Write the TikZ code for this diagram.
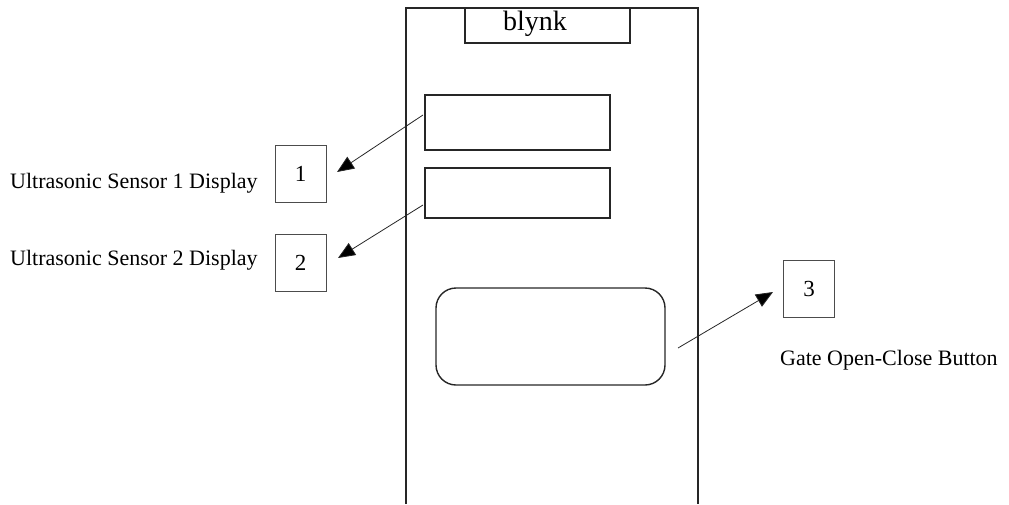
\documentclass[tikz,border=0pt]{standalone}
\usepackage{fontspec}
\setmainfont{Liberation Serif}
\usetikzlibrary{arrows.meta}
\begin{document}
\begin{tikzpicture}[x=1pt,y=-1pt,
  frame/.style={draw=black!85,line width=1.5pt},
  panel/.style={draw=black!85,line width=1.4pt,inner sep=0pt,outer sep=0pt},
  numbox/.style={draw=black!70,line width=0.8pt,minimum width=51pt,minimum height=57pt,inner sep=0pt,font=\fontsize{23}{25}\selectfont},
  caption/.style={anchor=west,inner sep=0pt,font=\fontsize{22}{24}\selectfont},
  pointer/.style={draw=black!85,line width=0.8pt,-{Triangle[length=17pt,width=14pt,fill=black]}}]
\useasboundingbox (0,0) rectangle (1009,504);
% phone body, running off the bottom edge
\draw[frame] (406,504) -- (406,8) -- (698,8) -- (698,504);
% header bar with app name
\node[panel,minimum width=165pt,minimum height=35pt,anchor=north west] (head) at (465,8) {};
\node[inner sep=0pt] (appname) at (535,24) {\fontsize{28}{30}\selectfont blynk};
% value displays
\node[panel,minimum width=185pt,minimum height=55pt,anchor=north west] (disp1) at (425,95) {};
\node[panel,minimum width=185pt,minimum height=50pt,anchor=north west] (disp2) at (425,168) {};
% gate button
\node[panel,rounded corners=20pt,minimum width=229pt,minimum height=97pt,anchor=north west] (button) at (436,288) {};
% numbered callouts
\node[numbox] (n1) at (300.5,173.5) {1};
\node[numbox] (n2) at (300.5,263) {2};
\node[numbox] (n3) at (809,289) {3};
\node[caption] (c1) at (10,183) {Ultrasonic Sensor 1 Display};
\node[caption] (c2) at (10,260) {Ultrasonic Sensor 2 Display};
\node[caption] (c3) at (780,360) {Gate Open-Close Button};
% arrows from screen items to callouts
\coordinate (s1) at (423,115);
\coordinate (t1) at (337,172);
\coordinate (s2) at (423,205);
\coordinate (t2) at (338,258);
\coordinate (s3) at (678,348);
\coordinate (t3) at (773,292);
\draw[pointer] (s1) -- (t1);
\draw[pointer] (s2) -- (t2);
\draw[pointer] (s3) -- (t3);
\end{tikzpicture}
\end{document}
